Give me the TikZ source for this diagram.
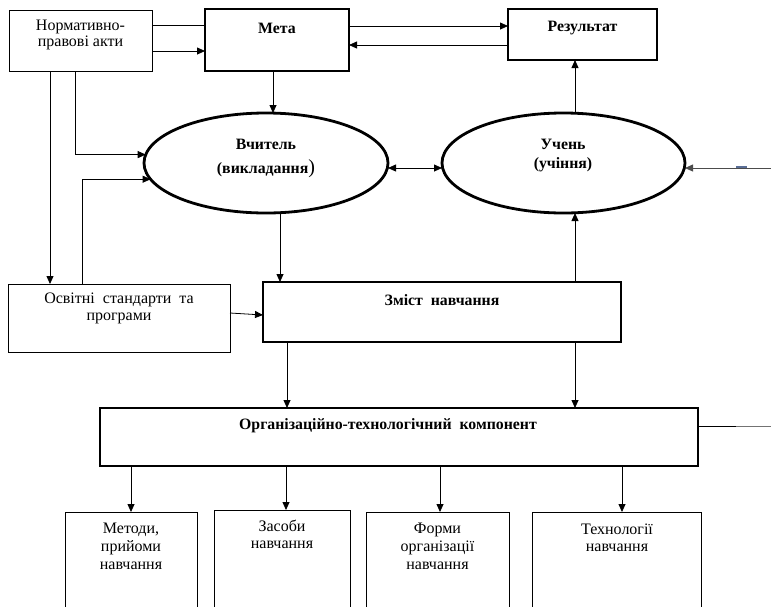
\documentclass[tikz,border=0pt]{standalone}
\usepackage{fontspec}
\setmainfont{Liberation Serif}
\usetikzlibrary{arrows.meta,shapes.geometric,calc}
\definecolor{dashcol}{RGB}{90,110,150}
\begin{document}
\begin{tikzpicture}[x=1pt,y=-1pt,
  thinbox/.style={draw, rectangle, line width=0.8pt, inner sep=0pt, outer sep=0pt},
  thickbox/.style={draw, rectangle, line width=2.8pt, inner sep=0pt, outer sep=0pt},
  oval/.style={draw, ellipse, line width=2.8pt, inner sep=0pt, outer sep=0pt},
  txt/.style={align=center, inner sep=0pt, font=\fontsize{16}{17}\selectfont},
  btxt/.style={align=center, inner sep=0pt, font=\fontsize{15.8}{17}\selectfont\bfseries},
  conn/.style={line width=0.8pt},
  arr/.style={line width=0.8pt, -{Triangle[length=8pt,width=7pt]}},
  darr/.style={line width=0.8pt, {Triangle[length=8pt,width=7pt]}-{Triangle[length=8pt,width=7pt]}}
]
\useasboundingbox (0,0) rectangle (771,606);
\fill[white] (0,0) rectangle (771,606);
\clip (0,0) rectangle (771,606);

% boxes
\node[thinbox, minimum width=143pt, minimum height=61pt] (norm) at (80.5,40.5) {};
\node[thickbox, minimum width=144pt, minimum height=62pt] (meta) at (277,40) {};
\node[thickbox, minimum width=149pt, minimum height=51pt] (res) at (582.5,34.5) {};
\node[oval, minimum width=244pt, minimum height=100pt] (teach) at (266,163) {};
\node[oval, minimum width=243pt, minimum height=100pt] (pupil) at (563.5,163) {};
\node[thinbox, minimum width=222pt, minimum height=68pt] (std) at (119,318) {};
\node[thickbox, minimum width=358pt, minimum height=60pt] (cont) at (442,312) {};
\node[thickbox, minimum width=598pt, minimum height=58pt] (org) at (399,437) {};
\node[thinbox, minimum width=132pt, minimum height=128pt] (m1) at (131,576) {};
\node[thinbox, minimum width=136pt, minimum height=130pt] (m2) at (282,575) {};
\node[thinbox, minimum width=143pt, minimum height=128pt] (m3) at (437.5,576) {};
\node[thinbox, minimum width=169pt, minimum height=128pt] (m4) at (616.5,576) {};

% texts
\node[txt, font=\fontsize{16}{16}\selectfont] (normt) at (80.5,35) {Нормативно-\\правові акти};
\node[btxt] (metat) at (277,28.5) {Мета};
\node[btxt] (rest) at (582.5,28.5) {Результат};
\node[btxt, font=\fontsize{15.8}{24}\selectfont\bfseries] (teacht) at (266,158) {Вчитель\\(викладання{\mdseries\fontsize{20}{20}\selectfont)}};
\node[btxt, font=\fontsize{15.8}{19}\selectfont\bfseries] (pupilt) at (563,155.5) {Учень\\(учіння)};
\node[txt] (stdt) at (119,308.5) {Освітні\ \ стандарти\ \ та\\програми};
\node[btxt] (contt) at (442,300.5) {Зміст\ \ навчання};
\node[btxt] (orgt) at (388,425.5) {Організаційно-технологічний\ \ компонент};
\node[txt, font=\fontsize{16}{18}\selectfont] (m1t) at (131,546) {Методи,\\прийоми\\навчання};
\node[txt] (m2t) at (282,534.5) {Засоби\\навчання};
\node[txt, font=\fontsize{16}{18}\selectfont] (m3t) at (437.5,546) {Форми\\організації\\навчання};
\node[txt] (m4t) at (617,537.5) {Технології\\навчання};

% free ends
\coordinate (rin) at (771,168);
\coordinate (dash1) at (736,167);
\coordinate (dash2) at (747,167);
\coordinate (oout1) at (736,426);
\coordinate (oout2) at (771,426);

% connectors top
\draw[conn] ([yshift=15.5pt]norm.east) -- ([yshift=15pt]meta.west);
\draw[arr] ([yshift=-10.5pt]norm.east) -- ([yshift=-11pt]meta.west);
\draw[arr] ([yshift=14pt]meta.east) -- ([yshift=8.5pt]res.west);
\draw[arr] ([yshift=-10.5pt]res.west) -- ([yshift=-5pt]meta.east);
\draw[arr] ([xshift=-4pt]meta.south) -- ([xshift=-4pt]meta.south |- teach.north);
\draw[arr] ([xshift=11.5pt]pupil.north) -- ([xshift=11.5pt]pupil.north |- res.south);
\draw[darr] ([yshift=-5pt]teach.east) -- ([yshift=-5pt]pupil.west);
\draw[arr, draw=black!70] (rin) -- ([yshift=-5pt]pupil.east);
\draw[line width=1.4pt, draw=dashcol] (dash1) -- (dash2);

% left side
\draw[arr] ([xshift=-5.5pt]norm.south) |- (teach.176);
\draw[arr] ([xshift=-30.5pt]norm.south) -- ([xshift=-30.5pt]norm.south |- std.north);
\draw[arr] ([xshift=-37pt]std.north) |- (teach.188);
\draw[arr] ([yshift=5pt]std.east) -- ([yshift=-3pt]cont.west);

% middle
\draw[arr] ([xshift=14pt]teach.south) -- ([xshift=14pt]teach.south |- cont.north);
\draw[arr] ([xshift=133pt]cont.north) -- ([xshift=133pt]cont.north |- pupil.south);
\draw[arr] ([xshift=-155pt]cont.south) -- ([xshift=-155pt]cont.south |- org.north);
\draw[arr] ([xshift=133pt]cont.south) -- ([xshift=133pt]cont.south |- org.north);

% org right line
\draw[conn] ([yshift=11pt]org.east) -- (oout1);
\draw[conn, draw=black!55] (oout1) -- (oout2);

% bottom arrows
\draw[arr] ([xshift=-268pt]org.south) -- ([xshift=0pt]m1.north);
\draw[arr] ([xshift=-113pt]org.south) -- ([xshift=4pt]m2.north);
\draw[arr] ([xshift=41pt]org.south) -- ([xshift=2.5pt]m3.north);
\draw[arr] ([xshift=223pt]org.south) -- ([xshift=5.5pt]m4.north);
\end{tikzpicture}
\end{document}
